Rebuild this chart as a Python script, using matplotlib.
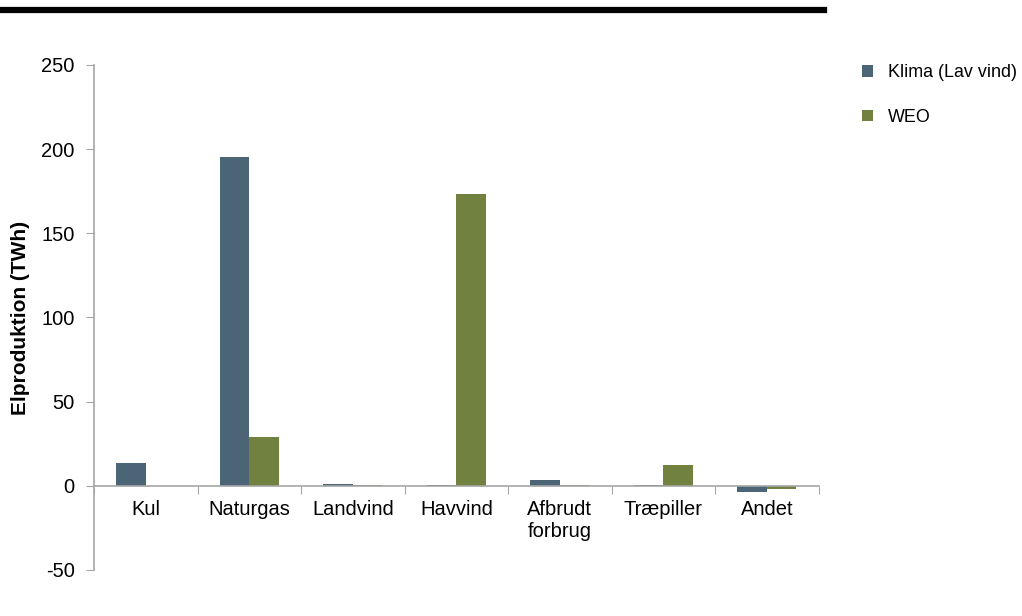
import numpy as np
import matplotlib.pyplot as plt
from matplotlib.lines import Line2D
from matplotlib.patches import Patch

plt.rcParams['font.family'] = ['Liberation Sans', 'DejaVu Sans']
plt.rcParams['axes.unicode_minus'] = False

# elproduktion pr. teknologi (TWh)
categories = ["Kul", "Naturgas", "Landvind", "Havvind", "Afbrudt\nforbrug", "Træpiller", "Andet"]
klima = [13.5, 195.5, 0.8, 0.3, 3.5, 0.3, -3.5]
weo = [0.0, 29.0, 0.5, 173.5, 0.5, 12.5, -2.0]

col_klima = "#4b6577"
col_weo = "#708140"
spine_col = "#a6a6a6"

fig = plt.figure(figsize=(10.22, 6.16), dpi=100)
ax = fig.add_axes([0.092, 0.0747, 0.709, 0.8198])

x = np.arange(len(categories))
w = 0.286
ax.bar(x - w / 2, klima, w, color=col_klima, linewidth=0, label="Klima (Lav vind)")
ax.bar(x + w / 2, weo, w, color=col_weo, linewidth=0, label="WEO")

ax.set_xlim(-0.5, len(categories) - 0.5)
ax.set_ylim(-50, 250)
ax.set_yticks(np.arange(-50, 251, 50))
ax.tick_params(axis='y', labelsize=14.5, length=6, color=spine_col, pad=8)
ax.set_ylabel("Elproduktion (TWh)", fontsize=15, fontweight='bold', labelpad=8)

# x-akse ligger ved 0, kategorier mellem tickmarks
ax.spines['bottom'].set_position(('data', 0))
ax.set_xticks(np.arange(-0.5, len(categories), 1.0))
ax.set_xticklabels([])
ax.set_xticks(x, minor=True)
ax.set_xticklabels(categories, minor=True, fontsize=14.5)
ax.tick_params(axis='x', which='major', length=6, color=spine_col)
ax.tick_params(axis='x', which='minor', length=0, pad=10)

for s in ['top', 'right']:
    ax.spines[s].set_visible(False)
for s in ['left', 'bottom']:
    ax.spines[s].set_color(spine_col)
    ax.spines[s].set_linewidth(1.2)

handles = [Patch(facecolor=col_klima, label="Klima (Lav vind)"),
           Patch(facecolor=col_weo, label="WEO")]
fig.legend(handles=handles, loc='upper left', bbox_to_anchor=(0.828, 0.922),
           frameon=False, fontsize=12.9, handlelength=0.6, handleheight=0.6,
           handletextpad=0.85, labelspacing=1.55)

# tyk sort linje i toppen
fig.add_artist(Line2D([0, 0.806], [1 - 10 / 616, 1 - 10 / 616], color='black',
                      linewidth=4.5, transform=fig.transFigure))

fig.savefig("out.png", dpi=100)
